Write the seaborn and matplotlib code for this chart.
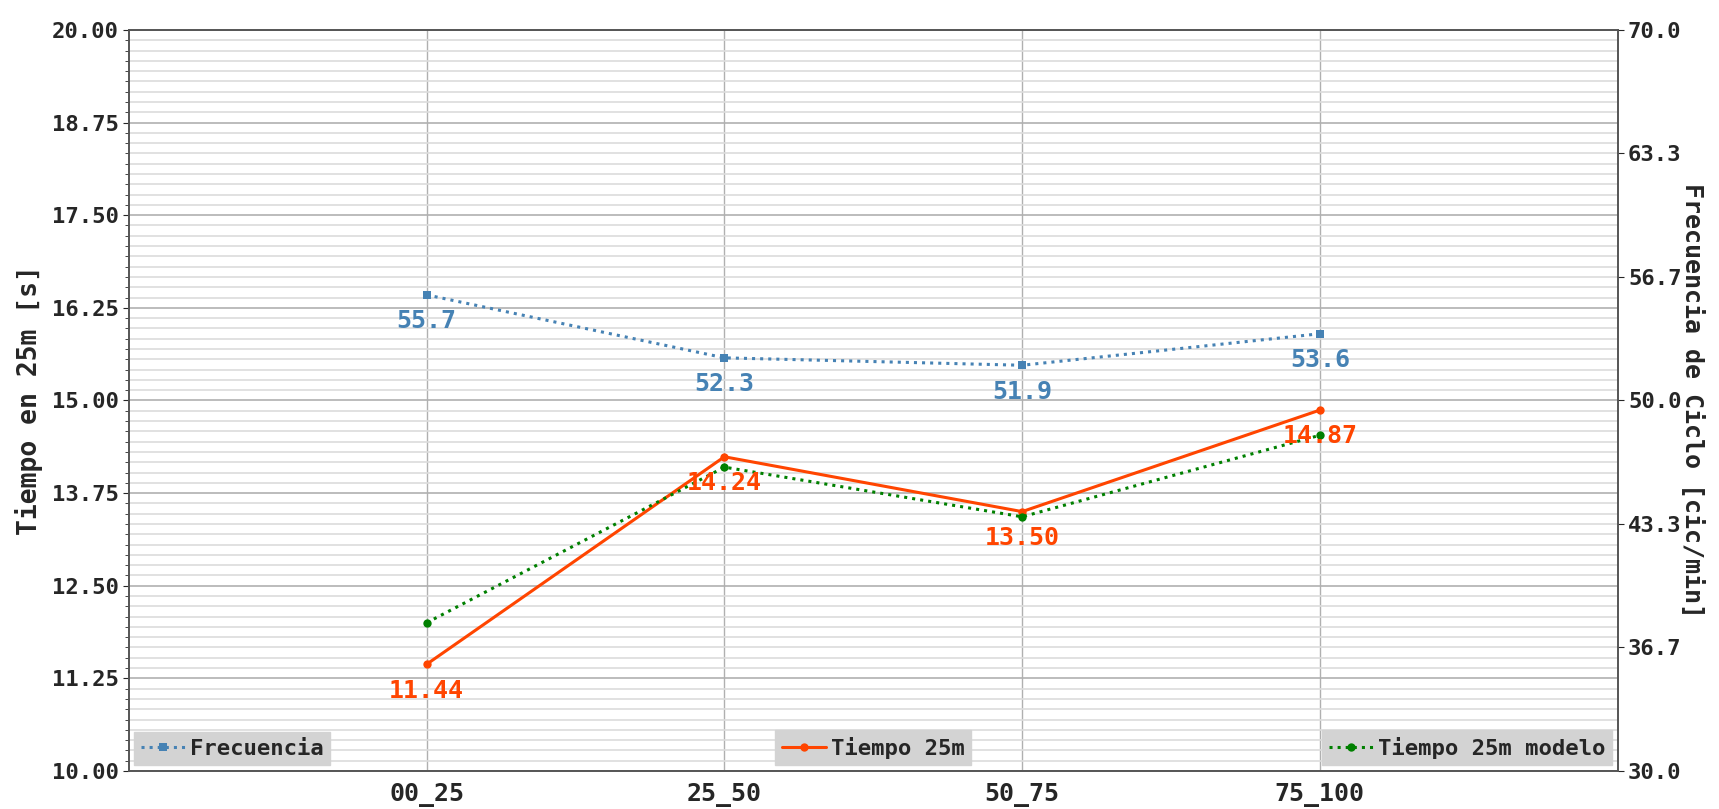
import matplotlib
matplotlib.use("Agg")
import matplotlib.pyplot as plt
import seaborn as sns
import pandas as pd
import numpy as np
from matplotlib.ticker import MultipleLocator, FixedLocator

categories = ["00_25", "25_50", "50_75", "75_100"]
frecuencia = [55.7, 52.3, 51.9, 53.6]
tiempo_25m = [11.44, 14.24, 13.50, 14.87]
tiempo_modelo = [12.00, 14.10, 13.43, 14.53]

left_ticks = [10.00, 11.25, 12.50, 13.75, 15.00, 16.25, 17.50, 18.75, 20.00]
right_ticks = [30.0, 36.7, 43.3, 50.0, 56.7, 63.3, 70.0]

sns.set_style("white")
plt.rcParams["font.family"] = ["DejaVu Sans Mono", "DejaVu Sans"]

df = pd.DataFrame({"x": np.arange(len(categories)), "cat": categories,
                   "frec": frecuencia, "t": tiempo_25m, "tm": tiempo_modelo})

fig = plt.figure(figsize=(17.19, 8.09), dpi=100)
ax = fig.add_axes([0.075, 0.047, 0.866, 0.916])
ax2 = ax.twinx()

# grid
ax.set_ylim(10, 20)
ax.set_xlim(-1, 4)
ax.yaxis.set_major_locator(FixedLocator(left_ticks))
ax.yaxis.set_minor_locator(MultipleLocator(10 / 72))
ax.grid(True, which="major", axis="y", color="#b0b0b0", lw=1.2, zorder=0)
ax.grid(True, which="minor", axis="y", color="#dcdcdc", lw=1.2, zorder=0)
ax.set_xticks(df["x"])
ax.set_xticklabels(categories)
ax.grid(True, which="major", axis="x", color="#b0b0b0", lw=1.0, zorder=0)
ax.set_axisbelow(True)

c_f = "#4682B4"
c_t = "#FF4500"
c_m = "#008000"

sns.lineplot(data=df, x="x", y="t", ax=ax, color=c_t, lw=2.2, marker="o",
             markersize=6, markeredgewidth=0, label="Tiempo 25m", legend=False, zorder=4)
sns.lineplot(data=df, x="x", y="tm", ax=ax, color=c_m, lw=2.2, ls=":", marker="o",
             markersize=6, markeredgewidth=0, label="Tiempo 25m modelo", legend=False, zorder=5)
sns.lineplot(data=df, x="x", y="frec", ax=ax2, color=c_f, lw=2.2, ls=":", marker="s",
             markersize=6, markeredgewidth=0, label="Frecuencia", legend=False, zorder=4)

ax2.set_ylim(30, 70)
ax2.yaxis.set_major_locator(FixedLocator(np.linspace(30, 70, 7)))
ax2.set_yticklabels([f"{v:.1f}" for v in right_ticks])
ax2.grid(False)

for xi, v in zip(df["x"], tiempo_25m):
    ax.annotate(f"{v:.2f}", (xi, v), xytext=(0, -19), textcoords="offset points",
                ha="center", va="center", color=c_t, fontsize=18, fontweight="bold", zorder=6)
for xi, v in zip(df["x"], frecuencia):
    ax2.annotate(f"{v:.1f}", (xi, v), xytext=(0, -19), textcoords="offset points",
                 ha="center", va="center", color=c_f, fontsize=18, fontweight="bold", zorder=6)

ax.set_yticklabels([f"{v:.2f}" for v in left_ticks])
for a in (ax, ax2):
    a.tick_params(axis="both", which="major", labelsize=16, length=4)
    for lab in a.get_xticklabels() + a.get_yticklabels():
        lab.set_fontweight("bold")
ax.tick_params(axis="x", labelsize=18, pad=5)
ax.tick_params(axis="y", which="minor", length=3, left=True)
ax.set_xlabel("")
ax.set_ylabel("Tiempo en 25m [s]", fontsize=19, fontweight="bold", labelpad=6)
ax2.set_ylabel("Frecuencia de Ciclo [cic/min]", fontsize=18, fontweight="bold",
               rotation=270, labelpad=16)

for a in (ax, ax2):
    for s in a.spines.values():
        s.set_color("#555555")
        s.set_linewidth(1.2)

leg_kw = dict(fontsize=16, frameon=True, fancybox=False, facecolor="#d3d3d3",
              edgecolor="#d3d3d3", framealpha=1, handlelength=2.0, handletextpad=0.2,
              borderpad=0.3, borderaxespad=0.25)
h_f, l_f = ax2.get_legend_handles_labels()
h_t, l_t = ax.get_legend_handles_labels()
leg1 = ax2.legend([h_f[0]], [l_f[0]], loc="lower left", **leg_kw)
ax2.add_artist(leg1)
leg2 = ax2.legend([h_t[0]], [l_t[0]], loc="lower center", **leg_kw)
ax2.add_artist(leg2)
leg3 = ax2.legend([h_t[1]], [l_t[1]], loc="lower right", **leg_kw)
for lg in (leg1, leg2, leg3):
    for t in lg.get_texts():
        t.set_fontweight("bold")

fig.savefig("out.png", dpi=100)
